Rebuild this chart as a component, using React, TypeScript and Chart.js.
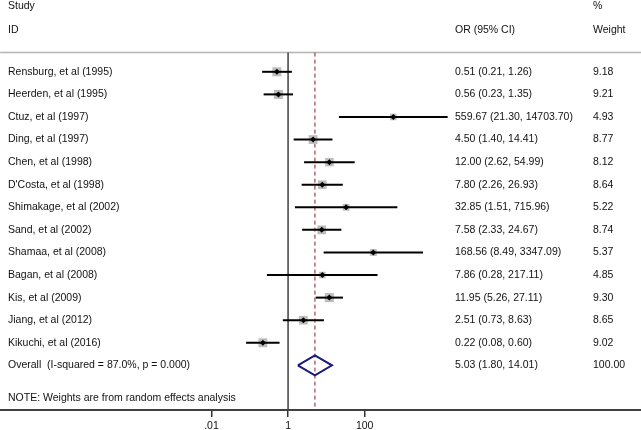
import React, { useEffect, useRef } from "react";
import { Chart, registerables } from "chart.js";

Chart.register(...registerables);

const studies = [
  "Rensburg, et al (1995)",
  "Heerden, et al (1995)",
  "Ctuz, et al (1997)",
  "Ding, et al (1997)",
  "Chen, et al (1998)",
  "D'Costa, et al (1998)",
  "Shimakage, et al (2002)",
  "Sand, et al (2002)",
  "Shamaa, et al (2008)",
  "Bagan, et al (2008)",
  "Kis, et al (2009)",
  "Jiang, et al (2012)",
  "Kikuchi, et al (2016)",
];
const orValues = [0.51, 0.56, 559.67, 4.5, 12.0, 7.8, 32.85, 7.58, 168.56, 7.86, 11.95, 2.51, 0.22];
const ciLower = [0.21, 0.23, 21.3, 1.4, 2.62, 2.26, 1.51, 2.33, 8.49, 0.28, 5.26, 0.73, 0.08];
const ciUpper = [1.26, 1.35, 14703.7, 14.41, 54.99, 26.93, 715.96, 24.67, 3347.09, 217.11, 27.11, 8.63, 0.6];
const weights = [9.18, 9.21, 4.93, 8.77, 8.12, 8.64, 5.22, 8.74, 5.37, 4.85, 9.3, 8.65, 9.02];

const overallLabel = "Overall  (I-squared = 87.0%, p = 0.000)";
const overallOR = 5.03;
const overallLower = 1.8;
const overallUpper = 14.01;
const overallWeight = 100.0;
const noteText = "NOTE: Weights are from random effects analysis";

const tickValues = [0.01, 1, 100];
const tickLabels = [".01", "1", "100"];

const X_MIN = Math.pow(10, -7.52);
const X_MAX = Math.pow(10, 9.217);
const Y_MIN = -3.18;
const Y_MAX = 14.977;
const TOP_ROW = -0.85;
const OVERALL_ROW = studies.length;
const NOTE_ROW = 14.46;

const FONT_FAMILY = '"Liberation Sans", Arial, sans-serif';
const FONT = `10.5px ${FONT_FAMILY}`;

export default function App() {
  const ref = useRef<HTMLCanvasElement | null>(null);

  useEffect(() => {
    const canvas = ref.current;
    if (!canvas) return;

    const rows = studies.map((_, i) => i);

    const ciDatasets = rows.map((i) => ({
      type: "line" as const,
      data: [
        { x: ciLower[i], y: i },
        { x: ciUpper[i], y: i },
      ],
      borderColor: "#000000",
      borderWidth: 2,
      pointRadius: 0,
      fill: false,
      tension: 0,
      order: 1,
    }));

    const textPlugin = {
      id: "forestText",
      afterDraw(chart: any) {
        const ctx = chart.ctx;
        const y = chart.scales.y;
        ctx.save();
        ctx.font = FONT;
        ctx.fillStyle = "#111111";
        ctx.textBaseline = "middle";
        ctx.textAlign = "left";
        ctx.fillText("Study", 8, 6.5);
        ctx.fillText("ID", 8, 30);
        ctx.fillText("OR (95% CI)", 455, 30);
        ctx.fillText("%", 593, 6.5);
        ctx.fillText("Weight", 593, 30);
        rows.forEach((i) => {
          const py = y.getPixelForValue(i);
          ctx.fillText(studies[i], 8, py);
          ctx.fillText(
            `${orValues[i].toFixed(2)} (${ciLower[i].toFixed(2)}, ${ciUpper[i].toFixed(2)})`,
            455,
            py
          );
          ctx.fillText(weights[i].toFixed(2), 593, py);
        });
        const oy = y.getPixelForValue(OVERALL_ROW);
        ctx.fillText(overallLabel, 8, oy);
        ctx.fillText(
          `${overallOR.toFixed(2)} (${overallLower.toFixed(2)}, ${overallUpper.toFixed(2)})`,
          455,
          oy
        );
        ctx.fillText(overallWeight.toFixed(2), 593, oy);
        ctx.fillText(noteText, 8, y.getPixelForValue(NOTE_ROW));
        ctx.restore();
      },
    };

    const chart = new Chart(canvas, {
      type: "scatter",
      data: {
        datasets: [
          {
            type: "scatter" as const,
            data: rows.map((i) => ({ x: orValues[i], y: i })),
            pointStyle: "rectRot",
            pointRadius: 3,
            backgroundColor: "#000000",
            borderWidth: 0,
            order: 0,
          },
          ...ciDatasets,
          {
            type: "scatter" as const,
            data: rows.map((i) => ({ x: orValues[i], y: i })),
            pointStyle: "rect",
            pointRadius: weights.map((w) => 2.1 * Math.sqrt(w)),
            backgroundColor: "#bdbdbd",
            borderWidth: 0,
            order: 2,
          },
          {
            type: "line" as const,
            data: [
              { x: overallLower, y: OVERALL_ROW },
              { x: overallOR, y: OVERALL_ROW - 0.44 },
              { x: overallUpper, y: OVERALL_ROW },
              { x: overallOR, y: OVERALL_ROW + 0.44 },
              { x: overallLower, y: OVERALL_ROW },
            ],
            borderColor: "#1a1a78",
            borderWidth: 2,
            pointRadius: 0,
            fill: false,
            tension: 0,
            order: 1,
          },
          {
            type: "line" as const,
            data: [
              { x: overallOR, y: TOP_ROW },
              { x: overallOR, y: Y_MAX },
            ],
            borderColor: "#8b1c2c",
            borderWidth: 1,
            borderDash: [4, 3],
            pointRadius: 0,
            fill: false,
            order: 3,
          },
          {
            type: "line" as const,
            data: [
              { x: 1, y: TOP_ROW },
              { x: 1, y: Y_MAX },
            ],
            borderColor: "#404040",
            borderWidth: 1.5,
            pointRadius: 0,
            fill: false,
            order: 3,
          },
          {
            type: "line" as const,
            data: [
              { x: X_MIN, y: TOP_ROW },
              { x: X_MAX, y: TOP_ROW },
            ],
            borderColor: "#b4b4b4",
            borderWidth: 1.5,
            pointRadius: 0,
            fill: false,
            order: 3,
          },
        ],
      } as any,
      options: {
        animation: false,
        responsive: false,
        maintainAspectRatio: false,
        layout: { padding: 0, autoPadding: false },
        plugins: {
          legend: { display: false },
          tooltip: { enabled: false },
        },
        scales: {
          x: {
            type: "logarithmic",
            position: "bottom",
            min: X_MIN,
            max: X_MAX,
            afterBuildTicks: (s: any) => {
              s.ticks = tickValues.map((v) => ({ value: v, major: false }));
            },
            afterFit: (s: any) => {
              s.height = 20;
            },
            grid: {
              display: true,
              drawOnChartArea: false,
              drawTicks: true,
              tickLength: 7,
              color: "#333333",
              lineWidth: 1.5,
            },
            border: { display: true, color: "#404040", width: 2 },
            ticks: {
              autoSkip: false,
              maxRotation: 0,
              padding: 3,
              color: "#111111",
              font: { family: FONT_FAMILY, size: 10.5 },
              callback: (_v: any, index: number) => tickLabels[index],
            },
          },
          y: {
            type: "linear",
            display: false,
            min: Y_MIN,
            max: Y_MAX,
            reverse: true,
          },
        },
      } as any,
      plugins: [textPlugin],
    });

    return () => chart.destroy();
  }, []);

  return (
    <div style={{ position: "absolute", left: 0, top: 0, width: 641, height: 430, background: "#fff" }}>
      <canvas ref={ref} width={641} height={430} style={{ display: "block" }} />
    </div>
  );
}
